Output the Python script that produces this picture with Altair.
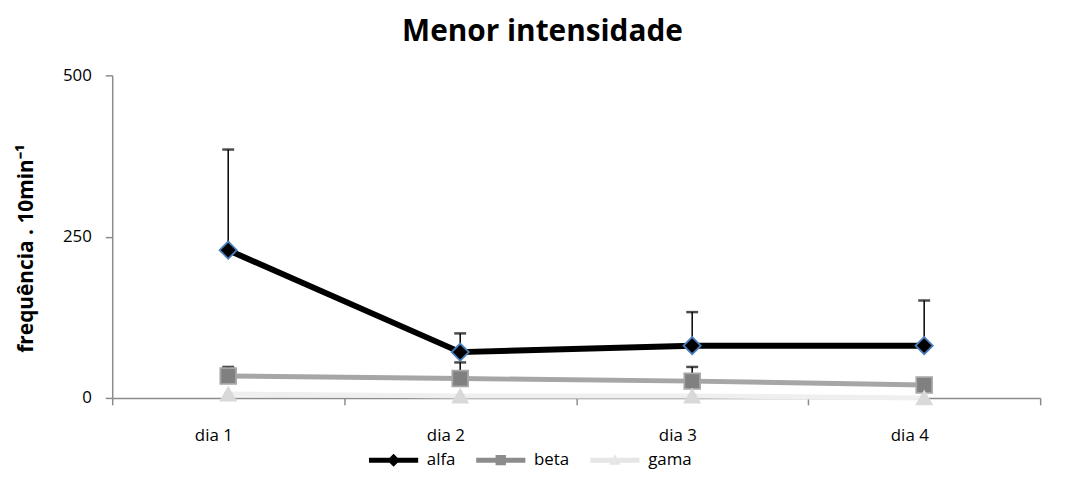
import altair as alt
import pandas as pd

dias = ["dia 1", "dia 2", "dia 3", "dia 4"]
series = ["alfa", "beta", "gama"]
alfa = [229, 71, 81, 81]
alfa_top = [385, 100, 133, 151]
beta = [34, 30, 26, 20]
beta_top = [48, 55, 48, 20]
gama = [6, 3, 3, 0]

rows = []
for i, d in enumerate(dias):
    rows.append({"dia": d, "serie": "alfa", "v": alfa[i], "top": alfa_top[i]})
    rows.append({"dia": d, "serie": "beta", "v": beta[i], "top": beta_top[i]})
    rows.append({"dia": d, "serie": "gama", "v": gama[i], "top": gama[i]})
df = pd.DataFrame(rows)

FONT = "Open Sans"
line_color = {"alfa": "#000000", "beta": "#a6a6a6", "gama": "#efefef"}
line_width = {"alfa": 6, "beta": 5, "gama": 5}
marker_fill = {"alfa": "#000000", "beta": "#808080", "gama": "#d9d9d9"}
marker_stroke = {"alfa": "#4a7ebb", "beta": "#a6a6a6", "gama": "#d9d9d9"}
marker_shape = {"alfa": "diamond", "beta": "square", "gama": "triangle-up"}
marker_size = {"alfa": 300, "beta": 250, "gama": 230}

x = alt.X("dia:N", sort=dias, title=None,
          scale=alt.Scale(paddingInner=0, paddingOuter=0),
          axis=alt.Axis(labelAngle=0, tickBand="extent", tickSize=7, labelPadding=23,
                        labelOffset=-15))
y = alt.Y("v:Q", title="frequência . 10min⁻¹",
          scale=alt.Scale(domain=[0, 500], nice=False),
          axis=alt.Axis(values=[0, 250, 500], grid=False, tickSize=7, labelPadding=14,
                        titleAngle=-90, titleX=-86, titleY=174,
                        titleAlign="center", titleBaseline="middle"))

base = alt.Chart(df)

err = base.transform_filter("datum.serie != 'gama'").mark_rule(
    color="#000", strokeWidth=1.5).encode(x=x, y=y, y2="top:Q")
cap = base.transform_filter("datum.serie != 'gama' && datum.top > datum.v").mark_tick(
    color="#000", thickness=2.5, size=12, orient="horizontal").encode(
    x=x, y=alt.Y("top:Q"))

line_layers = []
for s in ["gama", "beta", "alfa"]:
    line_layers.append(
        base.transform_filter(alt.datum.serie == s).mark_line(
            strokeWidth=line_width[s], color=line_color[s]).encode(x=x, y=y)
    )

pt_layers = []
for s in series:
    pt_layers.append(
        base.transform_filter(alt.datum.serie == s).mark_point(
            filled=True, size=marker_size[s], strokeWidth=1.8, opacity=1,
            shape=marker_shape[s], fill=marker_fill[s], stroke=marker_stroke[s]
        ).encode(x=x, y=y)
    )

bar = "M-3.8,-0.38H3.8V0.38H-3.8Z "
legend_paths = [bar + "M0,-1L1,0L0,1L-1,0Z",
                bar + "M-0.8,-0.8H0.8V0.8H-0.8Z",
                bar + "M0,-0.9L0.9,0.7H-0.9Z"]
legend_fills = ["#000000", "#8c8c8c", "#e6e6e6"]

leg = base.transform_filter("false").mark_point(filled=True, opacity=1, size=170).encode(
    x=x, y=y,
    shape=alt.Shape("serie:N", scale=alt.Scale(domain=series, range=legend_paths),
                    legend=alt.Legend(orient="none", legendX=275, legendY=379,
                                      title=None, direction="horizontal",
                                      symbolSize=170, symbolOpacity=1, symbolStrokeWidth=0,
                                      columnPadding=20, labelOffset=25)),
    fill=alt.Fill("serie:N", scale=alt.Scale(domain=series, range=legend_fills)),
)

chart = alt.layer(err, cap, *line_layers, *pt_layers, leg).properties(
    width=935, height=325,
    title=alt.Title("Menor intensidade", fontSize=30, font=FONT, fontWeight="bold",
                    color="#000", anchor="middle", offset=20, dx=-34),
    autosize=alt.AutoSizeParams(type="none"),
    padding={"left": 105, "top": 66, "right": 24, "bottom": 100},
).configure_view(stroke=None).configure_axis(
    labelFont=FONT, labelFontSize=17, labelColor="#000",
    domainColor="#8c8c8c", tickColor="#8c8c8c", domainWidth=1.5, tickWidth=1.5,
    titleFont=FONT, titleFontSize=21, titleFontWeight="bold", titleColor="#000",
).configure_legend(
    labelFont=FONT, labelFontSize=17, labelColor="#000",
)

chart.save("out.html", embed_options={"renderer": "svg", "actions": False})
